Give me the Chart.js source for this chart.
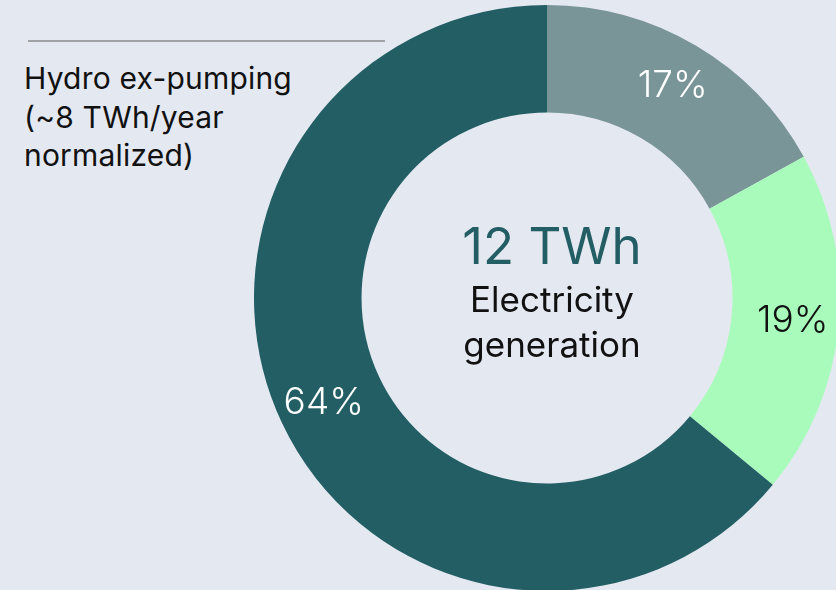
<!DOCTYPE html>
<html>
<head>
<meta charset="utf-8">
<script src="https://cdn.jsdelivr.net/npm/chart.js@4.4.1/dist/chart.umd.min.js"></script>
<style>
    html, body { margin: 0; padding: 0; width: 836px; height: 590px; overflow: hidden; background: #e4e8f1; }
    body { position: relative; font-family: Inter, "Noto Sans", sans-serif; }
    #rule { position: absolute; left: 28px; top: 40px; width: 357px; height: 2px; background: #a0a2a6; }
    #note { position: absolute; left: 24px; top: 59px; font-size: 30px; line-height: 38.5px; color: #111; letter-spacing: 0.2px; }
    #wrap { position: absolute; left: 254px; top: 5px; width: 586px; height: 586px; }
</style>
</head>
<body>
<div id="rule"></div>
<div id="note">Hydro ex-pumping<br>(~8 TWh/year<br>normalized)</div>
<div id="wrap"><canvas id="chart" width="586" height="586"></canvas></div>
<script>
// Chart data
const categories = ['Other', 'Other renewables', 'Hydro ex-pumping'];
const shares = [17, 19, 64];
const colors = ['#7a9598', '#a9fbbb', '#225e64'];
const labelColors = ['#ffffff', '#111111', '#ffffff'];
const centerValue = '12 TWh';
const centerLines = ['Electricity', 'generation'];

// Draws the percentage on each slice, a bit outside the ring's middle.
const sliceLabels = {
    id: 'sliceLabels',
    afterDatasetsDraw(chart) {
        const ctx = chart.ctx;
        const meta = chart.getDatasetMeta(0);
        ctx.save();
        ctx.font = '300 37px Inter, "Noto Sans", sans-serif';
        ctx.textAlign = 'center';
        ctx.textBaseline = 'middle';
        meta.data.forEach((arc, i) => {
            const p = arc.getProps(['x', 'y', 'startAngle', 'endAngle', 'innerRadius', 'outerRadius'], true);
            const mid = (p.startAngle + p.endAngle) / 2;
            const r = p.innerRadius + 0.57 * (p.outerRadius - p.innerRadius);
            ctx.fillStyle = labelColors[i];
            ctx.fillText(shares[i] + '%', p.x + Math.cos(mid) * r, p.y + Math.sin(mid) * r);
        });
        ctx.restore();
    }
};

// Total in the hole of the doughnut.
const centerText = {
    id: 'centerText',
    afterDraw(chart) {
        const ctx = chart.ctx;
        const arc = chart.getDatasetMeta(0).data[0];
        const x = arc.x + 5;
        const y = arc.y;
        ctx.save();
        ctx.textAlign = 'center';
        ctx.textBaseline = 'alphabetic';
        ctx.fillStyle = '#225e64';
        ctx.font = '400 51px Inter, "Noto Sans", sans-serif';
        ctx.fillText(centerValue, x, y - 34);
        ctx.fillStyle = '#111111';
        ctx.font = '400 35px Inter, "Noto Sans", sans-serif';
        centerLines.forEach((line, i) => ctx.fillText(line, x, y + 14 + i * 45));
        ctx.restore();
    }
};

new Chart(document.getElementById('chart').getContext('2d'), {
    type: 'doughnut',
    data: {
        labels: categories,
        datasets: [{
            data: shares,
            backgroundColor: colors,
            borderWidth: 0
        }]
    },
    options: {
        responsive: false,
        animation: false,
        cutout: '63.3%',
        layout: { padding: 0 },
        plugins: {
            legend: { display: false },
            tooltip: { enabled: false }
        }
    },
    plugins: [sliceLabels, centerText]
});
</script>
</body>
</html>
